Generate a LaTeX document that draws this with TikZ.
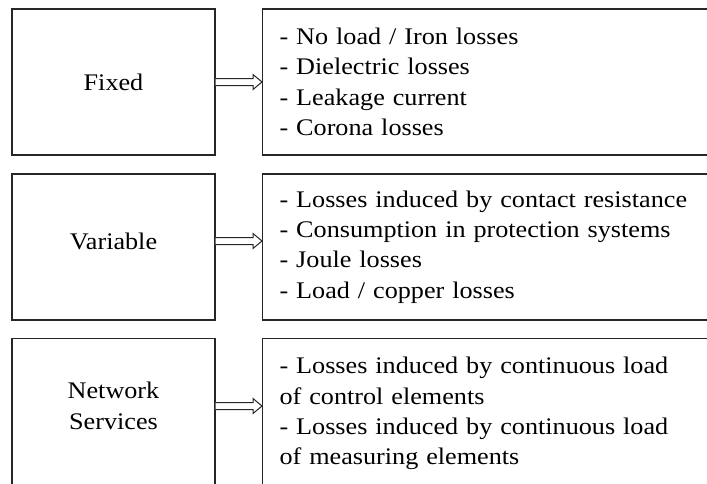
\documentclass[tikz,border=0pt]{standalone}
\usepackage{fontspec}
\setmainfont{Liberation Serif}[FakeStretch=1.1]
\usepackage{xcolor}
\usepackage{tikz}
\usetikzlibrary{
    arrows.meta,
    positioning,
    calc
}
\tikzset{
    category/.style={
        draw=black!85,
        line width=1.2pt,
        minimum width=203pt,
        minimum height=146pt,
        inner sep=0pt
    }
}
\tikzset{
    losslist/.style={
        draw=black!85,
        line width=1.2pt,
        anchor=west,
        minimum height=146pt,
        text width=426pt,
        inner xsep=17pt,
        inner ysep=0pt,
        align=left
    }
}
\tikzset{
    blockarrow/.style={
        draw=black!85,
        line width=1pt,
        fill=white,
        line join=miter
    }
}

\begin{document}
\begin{tikzpicture}[
    x=1pt, y=-1pt,
    font=\fontsize{23.8}{30.3}\selectfont
]

\useasboundingbox (0,0) rectangle (707,483);
\clip (0,0) rectangle (707,483);

% ------------------------------------------------------------
% Fixed losses
% ------------------------------------------------------------

\node[category] (fixed) at (113.5,82) {};
\node[align=center] (fixedtext) at (113.5,82) {Fixed};
\node[losslist] (fixedlist) at (262,82) {
    - No load / Iron losses\\
    - Dielectric losses\\
    - Leakage current\\
    - Corona losses
};

% ------------------------------------------------------------
% Variable losses
% ------------------------------------------------------------

\node[category] (variable) at (113.5,247) {};
\node[align=center] (variabletext) at (113.5,241) {Variable};
\node[losslist] (variablelist) at (262,247) {
    - Losses induced by contact resistance\\
    - Consumption in protection systems\\
    - Joule losses\\
    - Load / copper losses
};

% ------------------------------------------------------------
% Network services (cut off at the bottom)
% ------------------------------------------------------------

\node[category, minimum height=150pt, anchor=north] (services) at (113.5,338) {};
\node[align=center] (servicestext) at (113.5,406) {Network\\Services};
\node[losslist, minimum height=150pt, anchor=north west] (serviceslist) at (262,338) {
    - Losses induced by continuous load\\
    of control elements\\
    - Losses induced by continuous load\\
    of measuring elements
};

% Hollow block arrows from each category to its list
\foreach \a/\b in {fixed/fixedlist, variable/variablelist, services/serviceslist} {
    \coordinate (\a out) at (\a.east |- \a text);
    \coordinate (\a in) at (\b.west |- \a text);
    \draw[blockarrow] ($(\a out)+(0,-3.5)$) -- ($(\a in)+(-9,-3.5)$)
        -- ($(\a in)+(-9,-7.5)$) -- (\a in) -- ($(\a in)+(-9,7.5)$)
        -- ($(\a in)+(-9,3.5)$) -- ($(\a out)+(0,3.5)$);
}

\end{tikzpicture}
\end{document}
